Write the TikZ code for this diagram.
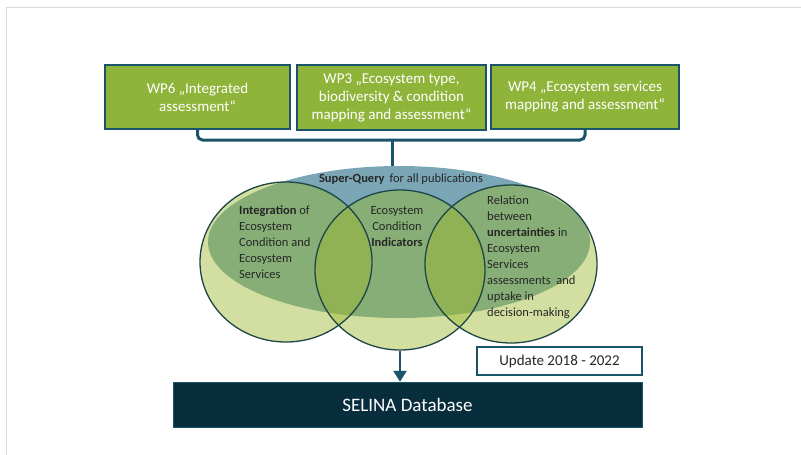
\documentclass[tikz,border=0pt]{standalone}
\usepackage{fontspec}
\setmainfont{Carlito}
\usetikzlibrary{shapes.geometric,arrows.meta}

\definecolor{wpgreen}{HTML}{8FB43A}
\definecolor{darkteal}{HTML}{1A5468}
\definecolor{navy}{HTML}{082E3E}
\definecolor{queryblue}{HTML}{7AA6B6}
\definecolor{setgreen}{HTML}{9BB82C}
\definecolor{ringline}{HTML}{1E4646}

\tikzset{
  wpbox/.style={draw=darkteal, line width=1.2pt, fill=wpgreen, text=white, align=center,
    minimum height=64pt, inner sep=0pt, font=\fontsize{15}{18}\selectfont},
  ringfill/.style={ellipse, fill=setgreen, fill opacity=0.45, inner sep=0pt},
  ring/.style={ellipse, draw=ringline, line width=1.3pt, inner sep=0pt},
  settext/.style={inner sep=0pt, text=black!85, font=\fontsize{12.5}{16}\selectfont},
  brace/.style={darkteal, line width=3pt},
}

\begin{document}
\begin{tikzpicture}[x=1pt, y=-1pt]
\useasboundingbox (0,0) rectangle (801,455);
\draw[black!15, line width=1pt] (801,7) -- (6,7) -- (6,455);

\node[wpbox, minimum width=185pt] (wp6) at (197.5,97) {WP6 „Integrated\\assessment“};
\node[wpbox, minimum width=189pt, minimum height=65pt] (wp3) at (391.5,97.5) {WP3 „Ecosystem type,\\biodiversity \& condition\\mapping and assessment“};
\node[wpbox, minimum width=188pt] (wp4) at (585,97) {WP4 „Ecosystem services\\mapping and assessment“};

\node[ellipse, fill=queryblue, minimum width=382pt, minimum height=152pt, inner sep=0pt] (query) at (399,242) {};

\coordinate (brace) at (392,140);
\draw[brace, rounded corners=5pt] (wp6.south) |- (brace) -| (wp4.south);
\draw[brace] (brace) -- (brace |- query.north);

% three topics
\node[ringfill, minimum width=172pt, minimum height=160pt] (leftfill) at (286,262) {};
\node[ringfill, minimum width=170pt, minimum height=160pt] (midfill) at (400,270) {};
\node[ringfill, minimum width=172pt, minimum height=158pt] (rightfill) at (511,264) {};
\node[ring, minimum width=172pt, minimum height=160pt] (left) at (286,262) {};
\node[ring, minimum width=170pt, minimum height=160pt] (mid) at (400,270) {};
\node[ring, minimum width=172pt, minimum height=158pt] (right) at (511,264) {};

\node[settext, anchor=north] (querytext) at (401,174) {\textbf{Super-Query}\, for all publications};
\node[settext, anchor=north west, align=left] (integration) at (239,206) {\textbf{Integration} of\\Ecosystem\\Condition and\\Ecosystem\\Services};
\node[settext, anchor=north, align=center] (indicators) at (397,206) {Ecosystem\\Condition\\\textbf{Indicators}};
\node[settext, anchor=north west, align=left] (uncertainties) at (487,196) {Relation\\between\\\textbf{uncertainties} in\\Ecosystem\\Services\\assessments\ \ and\\uptake in\\decision-making};

\node[draw=darkteal, line width=1.3pt, fill=white, minimum width=165pt, minimum height=28pt,
  text=black!85, font=\fontsize{15}{18}\selectfont] (update) at (559.5,361) {Update 2018 - 2022};
\node[fill=navy, draw=darkteal, minimum width=469pt, minimum height=45pt, text=white,
  font=\fontsize{19}{22}\selectfont] (selina) at (407.5,404.5) {SELINA Database};

\draw[darkteal, line width=2.5pt, -{Triangle[length=11pt,width=13pt]}] (mid.south) -- (mid.south |- selina.north);
\end{tikzpicture}
\end{document}
